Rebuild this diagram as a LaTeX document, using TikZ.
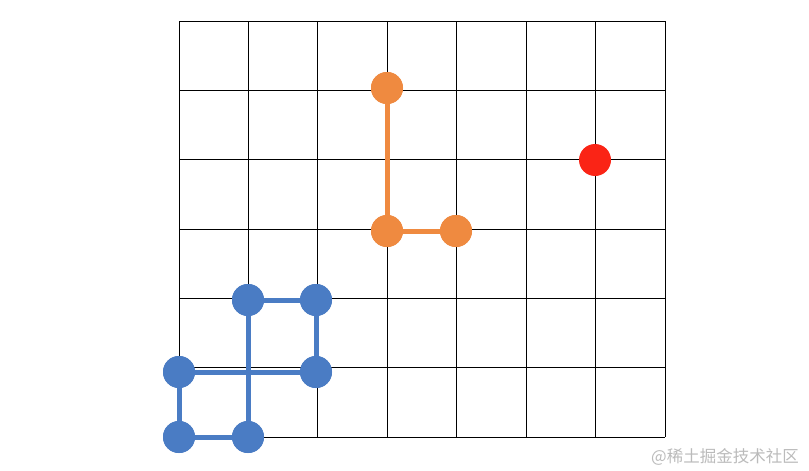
\documentclass[tikz,border=0pt]{standalone}
\usepackage{fontspec}
\newfontfamily\cjk{Noto Sans CJK SC}
\definecolor{myblue}{HTML}{4A7CC4}
\definecolor{myorange}{HTML}{EF8A40}
\definecolor{myred}{HTML}{FA2416}
\definecolor{wmgray}{HTML}{BBBBBB}
\begin{document}
\begin{tikzpicture}[x=1pt,y=-1pt,
  dot/.style={circle,minimum size=32pt,inner sep=0pt},
  bdot/.style={dot,fill=myblue},
  odot/.style={dot,fill=myorange},
  rdot/.style={dot,fill=myred},
  bline/.style={draw=myblue,line width=5pt},
  oline/.style={draw=myorange,line width=5pt},
  gridline/.style={line width=0.9pt,black}]
\useasboundingbox (0,0) rectangle (809,471);
\fill[white] (0,0) rectangle (809,471);
% grid
\foreach \x in {179,248.4,317.9,387.3,456.7,526.1,595.6,665} {
  \draw[gridline] (\x,21) -- (\x,437);
}
\foreach \y in {21,90.3,159.7,229,298.3,367.7,437} {
  \draw[gridline] (179,\y) -- (665,\y);
}
% nodes
\node[bdot] (b1) at (248,300) {};
\node[bdot] (b2) at (316,300) {};
\node[bdot] (b3) at (179,372) {};
\node[bdot] (b4) at (316,372) {};
\node[bdot] (b5) at (179,437) {};
\node[bdot] (b6) at (248,437) {};
\node[odot] (o1) at (387,88) {};
\node[odot] (o2) at (387,231) {};
\node[odot] (o3) at (456,231) {};
\node[rdot] (r1) at (595,160) {};
% edges
\draw[bline] (b1.center) -- (b2.center);
\draw[bline] (b1.center) -- (b6.center);
\draw[bline] (b2.center) -- (b4.center);
\draw[bline] (b3.center) -- (b4.center);
\draw[bline] (b3.center) -- (b5.center);
\draw[bline] (b5.center) -- (b6.center);
\draw[oline] (o1.center) -- (o2.center);
\draw[oline] (o2.center) -- (o3.center);
% redraw dots on top
\foreach \n/\s in {b1/bdot,b2/bdot,b3/bdot,b4/bdot,b5/bdot,b6/bdot,o1/odot,o2/odot,o3/odot} {
  \node[\s] at (\n.center) {};
}
\node[anchor=west,text=wmgray,font=\cjk\fontsize{16.5}{16.5}\selectfont,inner sep=0pt] (wm) at (651,457) {@稀土掘金技术社区};
\end{tikzpicture}
\end{document}
